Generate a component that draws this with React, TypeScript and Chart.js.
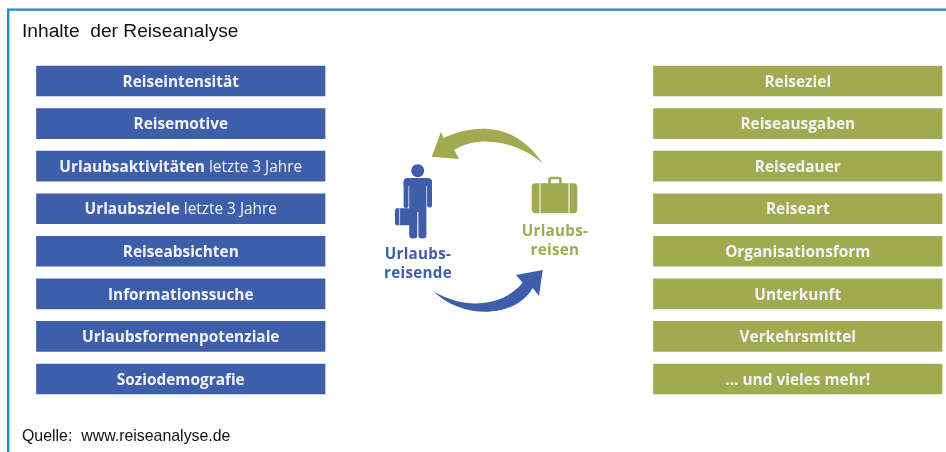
import React, { useEffect, useRef } from "react";
import { Chart, registerables } from "chart.js";

Chart.register(...registerables);

const rows = ["1", "2", "3", "4", "5", "6", "7", "8"];
const leftBold = ["Reiseintensität", "Reisemotive", "Urlaubsaktivitäten", "Urlaubsziele", "Reiseabsichten", "Informationssuche", "Urlaubsformenpotenziale", "Soziodemografie"];
const leftRegular = ["", "", "letzte 3 Jahre", "letzte 3 Jahre", "", "", "", ""];
const rightBold = ["Reiseziel", "Reiseausgaben", "Reisedauer", "Reiseart", "Organisationsform", "Unterkunft", "Verkehrsmittel", "... und vieles mehr!"];
const leftRange: [number, number] = [36.5, 325];
const rightRange: [number, number] = [653.5, 942];
const leftBars = rows.map(() => leftRange);
const rightBars = rows.map(() => rightRange);

const BLUE = "#3f5ea9";
const GREEN = "#9fab4e";
const FRAME = "#1b90c8";
const title = "Inhalte  der Reiseanalyse";
const source = "Quelle:  www.reiseanalyse.de";
const travellerLabel = ["Urlaubs-", "reisende"];
const tripLabel = ["Urlaubs-", "reisen"];
const BAR_FONT = '"Open Sans"';
const BAR_SIZE = 15.4;

function drawIcons(ctx: CanvasRenderingContext2D) {
  // green arrow
  ctx.fillStyle = GREEN;
  ctx.beginPath();
  ctx.moveTo(431.7, 156.7);
  ctx.lineTo(441, 131.7);
  ctx.lineTo(443.5, 138);
  ctx.bezierCurveTo(473, 124, 515, 121, 542.7, 163.3);
  ctx.bezierCurveTo(518, 142, 480, 134, 454, 150);
  ctx.lineTo(459.3, 159);
  ctx.closePath();
  ctx.fill();

  // blue arrow
  ctx.fillStyle = BLUE;
  ctx.beginPath();
  ctx.moveTo(542.7, 270);
  ctx.lineTo(516, 275);
  ctx.lineTo(522.7, 282.7);
  ctx.bezierCurveTo(505, 304, 470, 312, 434, 291.7);
  ctx.bezierCurveTo(460, 318, 514, 320, 532.7, 288);
  ctx.lineTo(539, 296);
  ctx.closePath();
  ctx.fill();

  // traveller
  ctx.beginPath();
  ctx.arc(417.7, 170.7, 6.5, 0, Math.PI * 2);
  ctx.fill();
  ctx.beginPath();
  ctx.roundRect(403.6, 178, 28.4, 8, [4, 4, 0, 0]);
  ctx.fill();
  ctx.beginPath();
  ctx.roundRect(403.6, 180, 4.9, 28, 2);
  ctx.roundRect(427.1, 180, 4.9, 27.5, 2);
  ctx.rect(409.2, 180, 17.2, 32);
  ctx.roundRect(409.2, 205, 8.2, 33.6, 3.5);
  ctx.roundRect(418.2, 205, 8.2, 33.6, 3.5);
  ctx.fill();
  ctx.beginPath();
  ctx.roundRect(395, 208.3, 22.6, 16.9, 2);
  ctx.fill();
  ctx.strokeStyle = "#e4e8f3";
  ctx.lineWidth = 0.9;
  ctx.beginPath();
  ctx.moveTo(399.6, 208.6);
  ctx.lineTo(399.6, 225);
  ctx.moveTo(417.8, 212);
  ctx.lineTo(417.8, 238);
  ctx.stroke();

  // suitcase
  ctx.fillStyle = GREEN;
  ctx.beginPath();
  ctx.roundRect(531.7, 183.3, 45.6, 30, 4);
  ctx.fill();
  ctx.strokeStyle = GREEN;
  ctx.lineWidth = 2.7;
  ctx.beginPath();
  ctx.roundRect(549.6, 178, 10.8, 7, 1.5);
  ctx.stroke();
  ctx.strokeStyle = "#f4f5ea";
  ctx.lineWidth = 1.2;
  ctx.beginPath();
  ctx.moveTo(540, 183);
  ctx.lineTo(540, 214);
  ctx.moveTo(569, 183);
  ctx.lineTo(569, 214);
  ctx.stroke();
}

const softBars = {
  id: "softBars",
  beforeDatasetsDraw(chart: Chart) {
    chart.ctx.save();
    chart.ctx.filter = "blur(0.5px)";
  },
  afterDatasetsDraw(chart: Chart) {
    chart.ctx.restore();
  },
};

const decor = {
  id: "decor",
  afterDraw(chart: Chart) {
    const ctx = chart.ctx;
    ctx.save();

    // frame
    ctx.strokeStyle = FRAME;
    ctx.lineWidth = 2.4;
    ctx.beginPath();
    ctx.moveTo(8.2, 460);
    ctx.lineTo(8.2, 9.6);
    ctx.lineTo(960, 9.6);
    ctx.stroke();

    // heading and source
    ctx.filter = "blur(0.25px)";
    ctx.fillStyle = "#111111";
    ctx.textBaseline = "alphabetic";
    ctx.textAlign = "left";
    ctx.font = '19.2px "Liberation Sans"';
    ctx.fillText(title, 22, 36.5);
    ctx.font = '15.9px "Liberation Sans"';
    ctx.fillText(source, 22, 441);

    ctx.filter = "blur(0.45px)";
    drawIcons(ctx);

    // bar captions
    ctx.fillStyle = "#f1f3f8";
    ctx.textBaseline = "middle";
    const caption = (bold: string, regular: string, cx: number, y: number) => {
      ctx.font = `700 ${BAR_SIZE}px ${BAR_FONT}`;
      const bw = ctx.measureText(bold).width;
      ctx.font = `400 ${BAR_SIZE}px ${BAR_FONT}`;
      const gap = regular ? ctx.measureText(" ").width : 0;
      const rw = regular ? ctx.measureText(regular).width : 0;
      let x = cx - (bw + gap + rw) / 2;
      ctx.textAlign = "left";
      ctx.font = `700 ${BAR_SIZE}px ${BAR_FONT}`;
      ctx.fillText(bold, x, y);
      if (regular) {
        x += bw + gap;
        ctx.font = `400 ${BAR_SIZE}px ${BAR_FONT}`;
        ctx.fillText(regular, x, y);
      }
    };
    const xs = chart.scales.x;
    const left = chart.getDatasetMeta(0).data;
    const right = chart.getDatasetMeta(1).data;
    const lc = xs.getPixelForValue((leftRange[0] + leftRange[1]) / 2);
    const rc = xs.getPixelForValue((rightRange[0] + rightRange[1]) / 2);
    rows.forEach((_, i) => {
      caption(leftBold[i], leftRegular[i], lc, left[i].y + 1.3);
      caption(rightBold[i], "", rc, right[i].y + 1.3);
    });

    // icon captions
    ctx.textAlign = "center";
    ctx.font = `700 15.2px ${BAR_FONT}`;
    (ctx as any).letterSpacing = "0.3px";
    ctx.fillStyle = BLUE;
    travellerLabel.forEach((t, i) => ctx.fillText(t, 418, 254.5 + i * 19.5));
    ctx.fillStyle = GREEN;
    tripLabel.forEach((t, i) => ctx.fillText(t, 555, 232 + i * 18.5));
    (ctx as any).letterSpacing = "0px";
    ctx.restore();
  },
};

export default function App() {
  const ref = useRef<HTMLCanvasElement>(null);
  useEffect(() => {
    if (!ref.current) return;
    const chart = new Chart(ref.current, {
      type: "bar",
      data: {
        labels: rows,
        datasets: [
          { data: leftBars as any, backgroundColor: BLUE, borderSkipped: false },
          { data: rightBars as any, backgroundColor: GREEN, borderSkipped: false },
        ],
      },
      options: {
        indexAxis: "y",
        responsive: false,
        animation: false,
        layout: { padding: { top: 59.71, bottom: 51.71, left: 0, right: 0 } },
        datasets: { bar: { grouped: false, barThickness: 30 } },
        scales: {
          x: { type: "linear", min: 0, max: 946, display: false },
          y: { type: "category", display: false },
        },
        plugins: { legend: { display: false }, title: { display: false }, tooltip: { enabled: false } },
      },
      plugins: [softBars, decor],
    });
    return () => chart.destroy();
  }, []);
  return (
    <canvas
      ref={ref}
      width={946}
      height={452}
      style={{ position: "fixed", left: 0, top: 0, display: "block" }}
    />
  );
}
